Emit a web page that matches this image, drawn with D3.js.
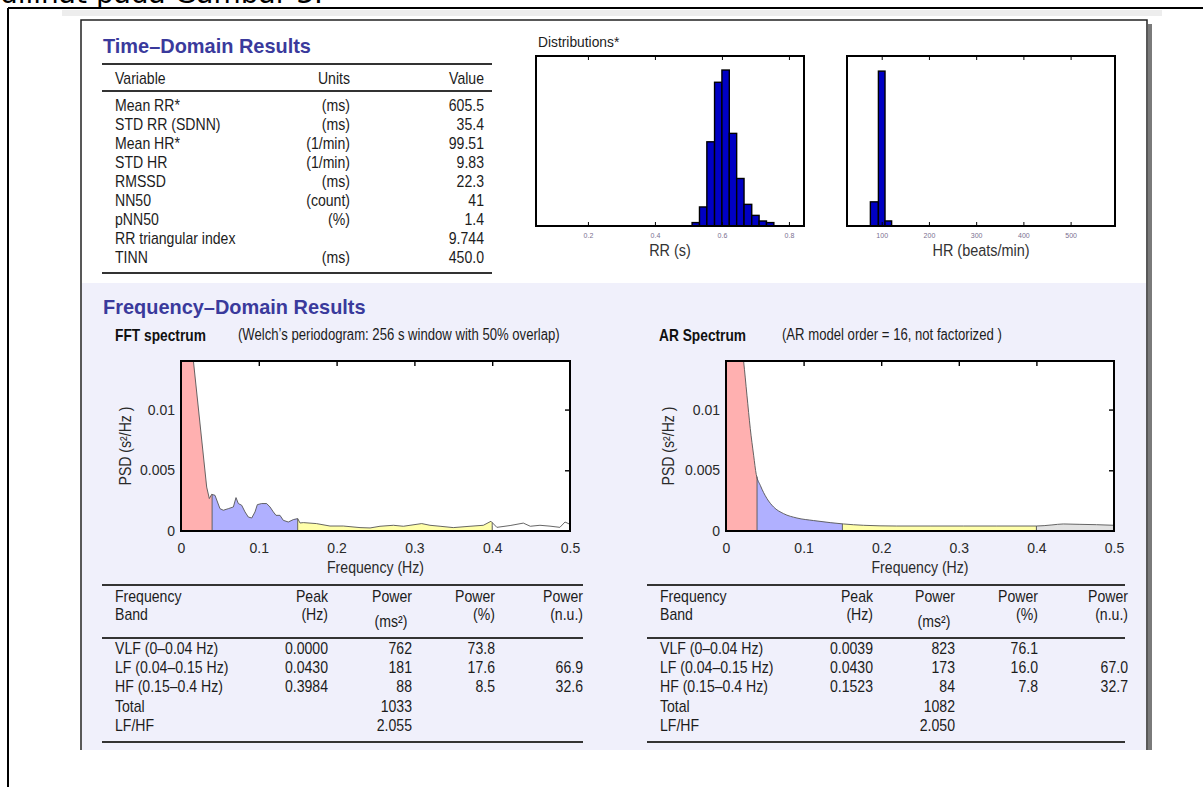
<!DOCTYPE html>
<html>
<head>
<meta charset="utf-8">
<script src="https://cdn.jsdelivr.net/npm/d3@7"></script>
<style>
  body { margin: 0; background: #fff; }
  svg { display: block; font-family: "Liberation Sans", Arial, sans-serif; }
</style>
</head>
<body>
<svg id="chart" width="1203" height="787"></svg>
<script>
// time-domain table
const timeVars = ["Mean RR*", "STD RR (SDNN)", "Mean HR*", "STD HR", "RMSSD", "NN50", "pNN50", "RR triangular index", "TINN"];
const timeUnits = ["(ms)", "(ms)", "(1/min)", "(1/min)", "(ms)", "(count)", "(%)", "", "(ms)"];
const timeValues = ["605.5", "35.4", "99.51", "9.83", "22.3", "41", "1.4", "9.744", "450.0"];

// distributions
const rrBinEdges = [0.511, 0.533, 0.555, 0.578, 0.600, 0.622, 0.644, 0.666, 0.689, 0.711, 0.733, 0.755];
const rrCounts = [17, 95, 420, 717, 778, 462, 237, 108, 53, 25, 17];
const rrTicks = [0.2, 0.4, 0.6, 0.8];
const hrBinEdges = [76, 93, 107, 121];
const hrCounts = [382, 2449, 80];
const hrTicks = [100, 200, 300, 400, 500];

// spectra
const fftFreq = [0, 0.0330, 0.0364, 0.0394, 0.0437, 0.0501, 0.0544, 0.0608, 0.0673, 0.0707, 0.0737, 0.0780, 0.0823, 0.0865, 0.0909, 0.0951, 0.0981, 0.1037, 0.1101, 0.1144, 0.1187, 0.1221, 0.1272, 0.1315, 0.1379, 0.1444, 0.1500, 0.1530, 0.1572, 0.174, 0.1915, 0.2086, 0.2301, 0.243, 0.2558, 0.273, 0.2858, 0.3094, 0.32, 0.333, 0.35, 0.3715, 0.3886, 0.3984, 0.406, 0.423, 0.44, 0.449, 0.4614, 0.4743, 0.487, 0.4936, 0.5];
const fftPsd = [0.0237, 0.00362, 0.00267, 0.00302, 0.00294, 0.00184, 0.00171, 0.00184, 0.00198, 0.00275, 0.00226, 0.00212, 0.00157, 0.00115, 0.00107, 0.00157, 0.00217, 0.00226, 0.00226, 0.00198, 0.00157, 0.00129, 0.00129, 0.00088, 0.00074, 0.00094, 0.00102, 0.00066, 0.00069, 0.00061, 0.00041, 0.00041, 0.00028, 0.00025, 0.00039, 0.00047, 0.00039, 0.00061, 0.00047, 0.00039, 0.00028, 0.00039, 0.00047, 0.00080, 0.00030, 0.00045, 0.00065, 0.00039, 0.00047, 0.00040, 0.00030, 0.00074, 0.00055];
const arFreq = [0, 0.010, 0.018, 0.0227, 0.027, 0.0313, 0.0356, 0.039, 0.0442, 0.0528, 0.0613, 0.0742, 0.0914, 0.1128, 0.1343, 0.1514, 0.177, 0.220, 0.263, 0.306, 0.349, 0.4, 0.42, 0.4347, 0.455, 0.4775, 0.5];
const arPsd = [0.030, 0.022, 0.0165, 0.01398, 0.01118, 0.00843, 0.00624, 0.00465, 0.00376, 0.00267, 0.00198, 0.00143, 0.00107, 0.00086, 0.00069, 0.00058, 0.00047, 0.00041, 0.00041, 0.00041, 0.00041, 0.00041, 0.0005, 0.00058, 0.00055, 0.00052, 0.00047];
const freqTicks = [0, 0.1, 0.2, 0.3, 0.4, 0.5];
const psdTicks = [0, 0.005, 0.01];
const bandEdges = [0, 0.04, 0.15, 0.4, 0.5];

// frequency tables
const bandNames = ["VLF (0\u20130.04 Hz)", "LF (0.04\u20130.15 Hz)", "HF (0.15\u20130.4 Hz)", "Total", "LF/HF"];
const fftPeak = ["0.0000", "0.0430", "0.3984", "", ""];
const fftPowerMs = ["762", "181", "88", "1033", "2.055"];
const fftPowerPct = ["73.8", "17.6", "8.5", "", ""];
const fftPowerNu = ["", "66.9", "32.6", "", ""];
const arPeak = ["0.0039", "0.0430", "0.1523", "", ""];
const arPowerMs = ["823", "173", "84", "1082", "2.050"];
const arPowerPct = ["76.1", "16.0", "7.8", "", ""];
const arPowerNu = ["", "67.0", "32.7", "", ""];

const svg = d3.select("#chart");
const ink = "#1c1c1c";
const titleBlue = "#3a3a9c";

function txt(g, x, y, s, o = {}) {
  let tr = `translate(${x},${y})` + (o.rot ? ` rotate(${o.rot})` : "") + ` scale(${o.sx ?? 0.88},1)`;
  return g.append("text")
    .attr("transform", tr)
    .attr("text-anchor", o.anchor || "start")
    .attr("font-size", o.size || 16)
    .attr("font-weight", o.weight || "normal")
    .attr("font-family", o.family || null)
    .attr("fill", o.color || ink)
    .text(s);
}

function rule(g, x1, x2, y) {
  g.append("line").attr("x1", x1).attr("x2", x2).attr("y1", y).attr("y2", y)
    .attr("stroke", "#333").attr("stroke-width", 2);
}

// page frame and the report panel
txt(svg, 0, 3, "dilihat pada Gambar 3.", { size: 28, sx: 1, family: "DejaVu Sans", color: "#000" });
svg.append("rect").attr("x", 62).attr("y", 10).attr("width", 1100).attr("height", 6).attr("fill", "#ededed");
svg.append("line").attr("x1", 8).attr("x2", 1203).attr("y1", 8).attr("y2", 8).attr("stroke", "#000").attr("stroke-width", 2);
svg.append("line").attr("x1", 8).attr("x2", 8).attr("y1", 8).attr("y2", 787).attr("stroke", "#000").attr("stroke-width", 2);

svg.append("rect").attr("x", 1148).attr("y", 24).attr("width", 4).attr("height", 726).attr("fill", "#7a7a7a");
svg.append("rect").attr("x", 81).attr("y", 20).attr("width", 1066).attr("height", 730).attr("fill", "#fff");
svg.append("rect").attr("x", 82).attr("y", 283).attr("width", 1064).attr("height", 467).attr("fill", "#f0f0fb");
svg.append("path").attr("d", "M81,750V20H1147V750").attr("fill", "none").attr("stroke", "#222").attr("stroke-width", 1.5);

// time-domain results
const td = svg.append("g");
txt(td, 103, 53, "Time\u2013Domain Results", { size: 21, weight: "bold", sx: 0.95, color: titleBlue });
rule(td, 102, 492, 64);
txt(td, 115, 84, "Variable");
txt(td, 350, 84, "Units", { anchor: "end" });
txt(td, 484, 84, "Value", { anchor: "end" });
rule(td, 102, 492, 91);
timeVars.forEach((v, i) => {
  let y = 111 + i * 19;
  txt(td, 115, y, v);
  txt(td, 350, y, timeUnits[i], { anchor: "end" });
  txt(td, 484, y, timeValues[i], { anchor: "end" });
});
rule(td, 102, 492, 273);

txt(svg, 538, 47, "Distributions*", { size: 15, sx: 0.92 });

function histogram(x0, x1, y0, y1, domain, ticks, fmt, edges, counts, ymax, label) {
  const x = d3.scaleLinear().domain(domain).range([x0, x1]);
  const y = d3.scaleLinear().domain([0, ymax]).range([y1, y0]);
  const g = svg.append("g");
  g.append("rect").attr("x", x0).attr("y", y0).attr("width", x1 - x0).attr("height", y1 - y0).attr("fill", "#fff");
  g.selectAll(".bar").data(counts).join("rect")
    .attr("x", (d, i) => x(edges[i]))
    .attr("width", (d, i) => x(edges[i + 1]) - x(edges[i]))
    .attr("y", d => y(d))
    .attr("height", d => y(0) - y(d))
    .attr("fill", "#0000c4").attr("stroke", "#000").attr("stroke-width", 1.4);
  g.append("g").attr("transform", `translate(0,${y0})`)
    .call(d3.axisTop(x).tickValues(ticks).tickSize(-4).tickFormat(""))
    .call(a => a.select(".domain").remove());
  g.append("g").attr("transform", `translate(0,${y1})`)
    .call(d3.axisBottom(x).tickValues(ticks).tickSize(-4).tickFormat(""))
    .call(a => a.select(".domain").remove());
  g.append("g").attr("transform", `translate(0,${y1})`)
    .call(d3.axisBottom(x).tickValues(ticks).tickSize(0).tickPadding(7).tickFormat(fmt))
    .call(a => a.select(".domain").remove())
    .call(a => a.selectAll("text").attr("font-size", 7).attr("fill", "#7a7090").attr("font-family", "Liberation Sans"));
  g.append("rect").attr("x", x0).attr("y", y0).attr("width", x1 - x0).attr("height", y1 - y0)
    .attr("fill", "none").attr("stroke", "#000").attr("stroke-width", 2);
  txt(g, (x0 + x1) / 2, 256, label, { anchor: "middle", size: 17, sx: 0.85, color: "#333" });
}

histogram(536, 804, 56, 226, [0.045, 0.845], rrTicks, d3.format(".1f"), rrBinEdges, rrCounts, 848, "RR (s)");
histogram(847, 1115, 56, 226, [26.5, 594], hrTicks, d3.format("d"), hrBinEdges, hrCounts, 2688, "HR (beats/min)");

// frequency-domain results
txt(svg, 103, 314, "Frequency\u2013Domain Results", { size: 21, weight: "bold", sx: 0.95, color: titleBlue });
txt(svg, 115, 341, "FFT spectrum", { weight: "bold", size: 16, sx: 0.86, color: "#111" });
txt(svg, 238, 340, "(Welch\u2019s periodogram: 256 s window with 50% overlap)", { size: 16, sx: 0.82 });
txt(svg, 659, 341, "AR Spectrum", { weight: "bold", size: 16, sx: 0.86, color: "#111" });
txt(svg, 782, 340, "(AR model order = 16, not factorized )", { size: 16, sx: 0.82 });

let clipId = 0;
function spectrum(x0, x1, y0, y1, freq, psd, opts) {
  const x = d3.scaleLinear().domain([0, 0.5]).range([x0, x1]);
  const y = d3.scaleLinear().domain([0, 0.014]).range([y1, y0]);
  const g = svg.append("g");
  const id = "clip" + (clipId++);
  g.append("clipPath").attr("id", id).append("rect")
    .attr("x", x0).attr("y", y0).attr("width", x1 - x0).attr("height", y1 - y0);
  g.append("rect").attr("x", x0).attr("y", y0).attr("width", x1 - x0).attr("height", y1 - y0).attr("fill", "#fff");

  // inward ticks on all four sides
  const inner = [0.1, 0.2, 0.3, 0.4];
  g.append("g").attr("transform", `translate(0,${y0})`).call(d3.axisTop(x).tickValues(inner).tickSize(-5).tickFormat(""));
  g.append("g").attr("transform", `translate(0,${y1})`).call(d3.axisBottom(x).tickValues(inner).tickSize(-5).tickFormat(""));
  g.append("g").attr("transform", `translate(${x0},0)`).call(d3.axisLeft(y).tickValues([0.005, 0.01]).tickSize(-5).tickFormat(""));
  g.append("g").attr("transform", `translate(${x1},0)`).call(d3.axisRight(y).tickValues([0.005, 0.01]).tickSize(-5).tickFormat(""));
  g.selectAll(".domain").remove();
  g.selectAll(".tick line").attr("stroke-width", 1.4);

  const pts = freq.map((f, i) => [f, psd[i]]);
  const at = f => {
    let i = d3.bisector(d => d[0]).right(pts, f);
    if (i <= 0) return pts[0][1];
    if (i >= pts.length) return pts[pts.length - 1][1];
    let a = pts[i - 1], b = pts[i];
    return a[1] + (b[1] - a[1]) * (f - a[0]) / (b[0] - a[0]);
  };
  const curve = opts.smooth ? d3.curveMonotoneX : d3.curveLinear;
  const area = d3.area().x(d => x(d[0])).y0(y(0)).y1(d => y(d[1])).curve(curve);
  const plot = g.append("g").attr("clip-path", `url(#${id})`);
  opts.fills.forEach((c, k) => {
    let lo = bandEdges[k], hi = bandEdges[k + 1];
    let seg = [[lo, at(lo)]].concat(pts.filter(p => p[0] > lo && p[0] < hi), [[hi, at(hi)]]);
    plot.append("path").datum(seg).attr("d", area).attr("fill", c);
    if (k > 0) {
      plot.append("line").attr("x1", x(lo)).attr("x2", x(lo)).attr("y1", y(at(lo))).attr("y2", y(0))
        .attr("stroke", "#555").attr("stroke-width", 0.9);
    }
  });
  plot.append("path").datum(pts)
    .attr("d", d3.line().x(d => x(d[0])).y(d => y(d[1])).curve(curve))
    .attr("fill", "none").attr("stroke", "#555").attr("stroke-width", 0.9);

  g.append("rect").attr("x", x0).attr("y", y0).attr("width", x1 - x0).attr("height", y1 - y0)
    .attr("fill", "none").attr("stroke", "#000").attr("stroke-width", 2);

  g.append("g").attr("transform", `translate(0,${y1})`)
    .call(d3.axisBottom(x).tickValues(freqTicks).tickSize(0).tickPadding(12).tickFormat(d => String(d)))
    .call(a => a.select(".domain").remove())
    .call(a => a.selectAll("text").attr("font-size", 14).attr("fill", "#2a2a2a").attr("font-family", "Liberation Sans"));
  g.append("g").attr("transform", `translate(${x0},0)`)
    .call(d3.axisLeft(y).tickValues(psdTicks).tickSize(0).tickPadding(6).tickFormat(d => String(d)))
    .call(a => a.select(".domain").remove())
    .call(a => a.selectAll("text").attr("font-size", 14).attr("fill", "#2a2a2a").attr("font-family", "Liberation Sans"));
  txt(g, (x0 + x1) / 2, 573, "Frequency (Hz)", { anchor: "middle", size: 16, sx: 0.88, color: "#2a2a2a" });
  txt(g, opts.psdX, (y0 + y1) / 2, "PSD (s\u00b2/Hz )", { anchor: "middle", size: 16, sx: 0.88, rot: -90, color: "#2a2a2a" });
}

spectrum(181, 570, 361, 531, fftFreq, fftPsd, { smooth: false, psdX: 131, fills: ["#ffb0b0", "#b0b0ff", "#ffffaa", "#ffffff"] });
spectrum(726, 1114, 361, 531, arFreq, arPsd, { smooth: true, psdX: 674, fills: ["#ffb0b0", "#b0b0ff", "#ffffaa", "#e2e2e2"] });

function bandTable(x0, x1, cols, peak, ms, pct, nu) {
  const g = svg.append("g");
  rule(g, x0, x1, 585);
  txt(g, x0 + 13, 602, "Frequency");
  txt(g, x0 + 13, 620, "Band");
  txt(g, cols[0], 602, "Peak", { anchor: "end" });
  txt(g, cols[0], 620, "(Hz)", { anchor: "end" });
  txt(g, cols[1], 602, "Power", { anchor: "end" });
  txt(g, cols[1] - 21, 627, "(ms\u00b2)", { anchor: "middle" });
  txt(g, cols[2], 602, "Power", { anchor: "end" });
  txt(g, cols[2], 620, "(%)", { anchor: "end" });
  txt(g, cols[3], 602, "Power", { anchor: "end" });
  txt(g, cols[3], 620, "(n.u.)", { anchor: "end" });
  rule(g, x0, x1, 638);
  bandNames.forEach((b, i) => {
    let y = 654 + i * 19.2;
    txt(g, x0 + 13, y, b);
    txt(g, cols[0], y, peak[i], { anchor: "end" });
    txt(g, cols[1], y, ms[i], { anchor: "end" });
    txt(g, cols[2], y, pct[i], { anchor: "end" });
    txt(g, cols[3], y, nu[i], { anchor: "end" });
  });
  rule(g, x0, x1, 742);
}

bandTable(102, 583, [328, 412, 495, 583], fftPeak, fftPowerMs, fftPowerPct, fftPowerNu);
bandTable(647, 1125, [873, 955, 1038, 1128], arPeak, arPowerMs, arPowerPct, arPowerNu);
</script>
</body>
</html>
